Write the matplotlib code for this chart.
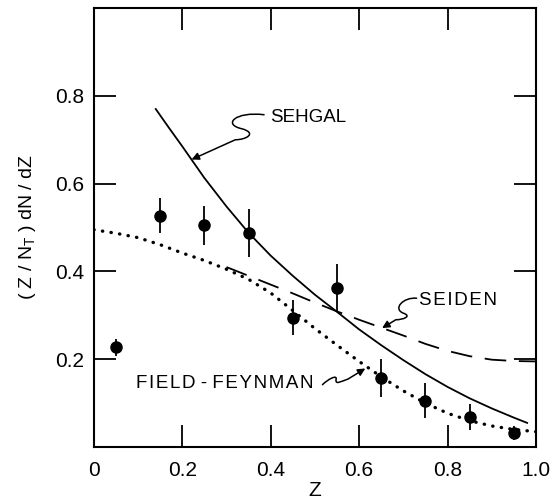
import matplotlib
matplotlib.use('Agg')
import matplotlib.pyplot as plt
from matplotlib.path import Path
from matplotlib.patches import FancyArrowPatch

plt.rcParams['font.family'] = ['Liberation Sans', 'DejaVu Sans']

# data points with error bars
z_pts = [0.05, 0.15, 0.25, 0.35, 0.45, 0.55, 0.65, 0.75, 0.85, 0.95]
y_pts = [0.227, 0.527, 0.505, 0.488, 0.295, 0.362, 0.158, 0.106, 0.069, 0.032]
y_err = [0.02, 0.04, 0.045, 0.055, 0.04, 0.055, 0.043, 0.04, 0.03, 0.015]

# model curves
z_sehgal = [0.14, 0.17, 0.2, 0.25, 0.3, 0.35, 0.4, 0.45, 0.5, 0.55, 0.6, 0.65, 0.7, 0.75, 0.8, 0.85, 0.9, 0.95, 0.98]
y_sehgal = [0.77, 0.727, 0.685, 0.613, 0.548, 0.488, 0.436, 0.39, 0.347, 0.308, 0.268, 0.232, 0.198, 0.166, 0.137, 0.111, 0.088, 0.067, 0.055]

z_seiden = [0.3, 0.35, 0.4, 0.45, 0.5, 0.55, 0.6, 0.65, 0.7, 0.75, 0.8, 0.85, 0.9, 0.95, 1.0]
y_seiden = [0.41, 0.39, 0.37, 0.35, 0.329, 0.309, 0.29, 0.272, 0.254, 0.235, 0.219, 0.207, 0.199, 0.196, 0.195]

z_ff = [0.0, 0.05, 0.1, 0.15, 0.2, 0.25, 0.3, 0.35, 0.4, 0.45, 0.5, 0.55, 0.6, 0.65, 0.7, 0.75, 0.8, 0.85, 0.9, 0.95, 1.0]
y_ff = [0.495, 0.487, 0.477, 0.461, 0.442, 0.425, 0.405, 0.382, 0.351, 0.311, 0.27, 0.232, 0.195, 0.16, 0.128, 0.1, 0.077, 0.06, 0.048, 0.04, 0.035]

ticks = [0.2, 0.4, 0.6, 0.8]

fig = plt.figure(figsize=(5.52, 5.04), dpi=100)
ax = fig.add_axes([0.170, 0.113, 0.801, 0.871])

ax.plot(z_sehgal, y_sehgal, color='black', lw=1.3)
ax.plot(z_seiden, y_seiden, color='black', lw=1.3, dashes=(12, 7))
ax.plot(z_ff, y_ff, color='black', lw=2.4, linestyle=(0, (0.1, 2.5)),
        dash_capstyle='round')
ax.errorbar(z_pts, y_pts, yerr=y_err, fmt='o', color='black', ms=8,
            elinewidth=1.3, capsize=0)

ax.set_xlim(0, 1.0)
ax.set_ylim(0, 1.0)
ax.set_xticks([0, 0.2, 0.4, 0.6, 0.8, 1.0])
ax.set_xticklabels(['0', '0.2', '0.4', '0.6', '0.8', '1.0'])
ax.set_yticks(ticks)
ax.set_yticklabels(['0.2', '0.4', '0.6', '0.8'])
ax.tick_params(direction='in', length=16, width=1.3, labelsize=15,
               top=True, right=True, pad=7)
ax.tick_params(axis='x', pad=10)
for s in ax.spines.values():
    s.set_linewidth(1.5)

ax.set_xlabel('Z', fontsize=15, labelpad=1)
ax.set_ylabel(r'( Z / N$_\mathregular{T}$ ) dN / dZ', fontsize=14, labelpad=12)

# labels with squiggly arrows, letters spaced a little like the original
hs = '\u200a'
lab = dict(fontsize=13.5, va='center', ha='left')
ax.text(0.398, 0.75, 'SEHGAL', **lab)
ax.text(0.735, 0.334, hs.join('SEIDEN'), **lab)
ax.text(0.095, 0.144, hs.join('FIELD') + ' - ' + hs.join('FEYNMAN'), **lab)

M, C, L = Path.MOVETO, Path.CURVE4, Path.LINETO
squiggles = [
    [(0.385, 0.757), (0.32, 0.765), (0.29, 0.735), (0.335, 0.725),
     (0.37, 0.715), (0.345, 0.70), (0.32, 0.70), (0.221, 0.655)],
    [(0.73, 0.339), (0.70, 0.342), (0.675, 0.315), (0.70, 0.305),
     (0.72, 0.298), (0.70, 0.29), (0.683, 0.29), (0.652, 0.271)],
    [(0.517, 0.142), (0.53, 0.155), (0.55, 0.165), (0.548, 0.155),
     (0.545, 0.14), (0.56, 0.15), (0.575, 0.155), (0.614, 0.179)],
]
codes = [M, C, C, C, C, C, C, L]
for pts in squiggles:
    arr = FancyArrowPatch(path=Path(pts, codes), arrowstyle='-|>',
                          mutation_scale=11, color='black', lw=1.1)
    ax.add_patch(arr)

fig.savefig('out.png', dpi=100)
